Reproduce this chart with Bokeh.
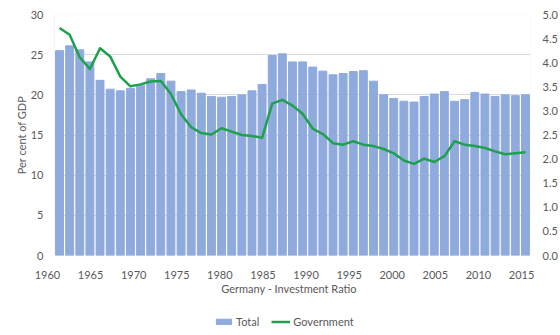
from bokeh.plotting import figure
from bokeh.layouts import column
from bokeh.models import (Range1d, LinearAxis, FixedTicker, Legend, LegendItem,
                          ColumnDataSource, BoxAnnotation)
from bokeh.embed import file_html
from bokeh.resources import INLINE

# ---- data ----
total = [25.5, 26.1, 25.6, 24.1, 21.8, 20.7, 20.5, 20.8, 21.2, 22.0,
         22.65, 21.7, 20.4, 20.6, 20.2, 19.8, 19.7, 19.8, 20.0, 20.5,
         21.3, 24.9, 25.1, 24.1, 24.1, 23.45, 22.95, 22.5, 22.65, 22.9,
         23.0, 21.7, 20.0, 19.55, 19.2, 19.1, 19.8, 20.1, 20.4, 19.2,
         19.4, 20.3, 20.1, 19.8, 20.0, 19.9, 20.0]
government = [4.72, 4.58, 4.11, 3.87, 4.30, 4.13, 3.71, 3.51, 3.55, 3.61,
              3.62, 3.35, 2.93, 2.66, 2.54, 2.51, 2.64, 2.57, 2.50, 2.48,
              2.44, 3.15, 3.23, 3.11, 2.94, 2.63, 2.52, 2.33, 2.30, 2.37,
              2.30, 2.27, 2.21, 2.12, 1.97, 1.90, 2.01, 1.94, 2.06, 2.37,
              2.30, 2.27, 2.23, 2.16, 2.10, 2.12, 2.14]
year_ticks = [1960, 1965, 1970, 1975, 1980, 1985, 1990, 1995, 2000, 2005, 2010, 2015]
left_ticks = [0, 5, 10, 15, 20, 25, 30]
right_ticks = [0.0, 0.5, 1.0, 1.5, 2.0, 2.5, 3.0, 3.5, 4.0, 4.5, 5.0]

idx = list(range(len(total)))
src = ColumnDataSource(dict(x=idx, total=total, gov=government))

FONT = "Lato"
TXT = "#595959"
GRID = "#D9D9D9"
BAR = "#8FAADC"
GREEN = "#1FA04F"

n = len(total)
p = figure(width=560, height=300, output_backend="svg", toolbar_location=None,
           x_range=Range1d(-1.188, n - 0.5), y_range=Range1d(0, 30),
           min_border_left=47, min_border_right=29, min_border_top=14,
           min_border_bottom=45, x_axis_location=None, y_axis_location=None)
p.outline_line_color = None
p.xgrid.grid_line_color = None

p.extra_y_ranges = {"gov": Range1d(0, 5)}
p.extra_x_ranges = {"yr": Range1d(1960.0, 2016.04)}

p.ygrid.ticker = FixedTicker(ticks=left_ticks)
p.ygrid.grid_line_color = GRID

# white strip left of the plot area, then plot-area border
p.add_layout(BoxAnnotation(right=-0.5, fill_color="white", fill_alpha=1,
                           line_color=None, level="underlay"))
p.add_layout(BoxAnnotation(left=-0.5, right=n - 0.5, bottom=0, top=30,
                           fill_alpha=0, line_color=GRID, line_width=1,
                           level="underlay"))

bars = p.vbar(x="x", top="total", width=0.78, source=src, color=BAR)
line = p.line(x="x", y="gov", source=src, y_range_name="gov",
              line_color=GREEN, line_width=2.5, line_join="round")

def style(ax):
    ax.major_tick_line_color = None
    ax.minor_tick_line_color = None
    ax.major_tick_out = 0
    ax.major_tick_in = 0
    ax.minor_tick_out = 0
    ax.minor_tick_in = 0
    ax.axis_line_color = None
    ax.major_label_text_font = FONT
    ax.major_label_text_font_size = "11px"
    ax.major_label_text_color = TXT
    ax.axis_label_text_font = FONT
    ax.axis_label_text_font_size = "11px"
    ax.axis_label_text_font_style = "normal"
    ax.axis_label_text_color = TXT

yl = LinearAxis(ticker=FixedTicker(ticks=left_ticks), axis_label="Per cent of GDP")
style(yl)
yl.major_label_standoff = 4
yl.axis_label_standoff = 0
p.add_layout(yl, "left")

yr = LinearAxis(y_range_name="gov", ticker=FixedTicker(ticks=right_ticks))
style(yr)
yr.major_label_standoff = 12
yr.major_label_overrides = {t: f"{t:.1f}" for t in right_ticks}
p.add_layout(yr, "right")

xb = LinearAxis(x_range_name="yr", ticker=FixedTicker(ticks=year_ticks),
                axis_label="Germany - Investment Ratio",
                bounds=(1960.81, 2016.04))
style(xb)
xb.major_label_standoff = 15
xb.axis_label_standoff = 0
p.add_layout(xb, "below")

# legend strip as a second, axis-less figure
q = figure(width=560, height=35, output_backend="svg", toolbar_location=None,
           x_range=Range1d(0, 1), y_range=Range1d(0, 1),
           min_border_left=47, min_border_right=29, min_border_top=0,
           min_border_bottom=0, x_axis_location=None, y_axis_location=None)
q.outline_line_color = None
q.grid.grid_line_color = None
qb = q.vbar(x=[0.5], top=[1], width=0.5, color=BAR, visible=False)
ql = q.line(x=[0.2, 0.8], y=[0.5, 0.5], line_color=GREEN, line_width=2.5,
            visible=False)
leg = Legend(items=[LegendItem(label="Total", renderers=[qb]),
                    LegendItem(label="Government", renderers=[ql])],
             orientation="horizontal", location=(167, 7),
             glyph_width=19, glyph_height=7, label_standoff=3, spacing=12,
             padding=0, margin=0, border_line_color=None,
             background_fill_alpha=0, label_height=12,
             label_text_font=FONT, label_text_font_size="11px",
             label_text_color=TXT)
q.add_layout(leg, "center")

open("out.html", "w").write(file_html(column(p, q, spacing=0), INLINE))
